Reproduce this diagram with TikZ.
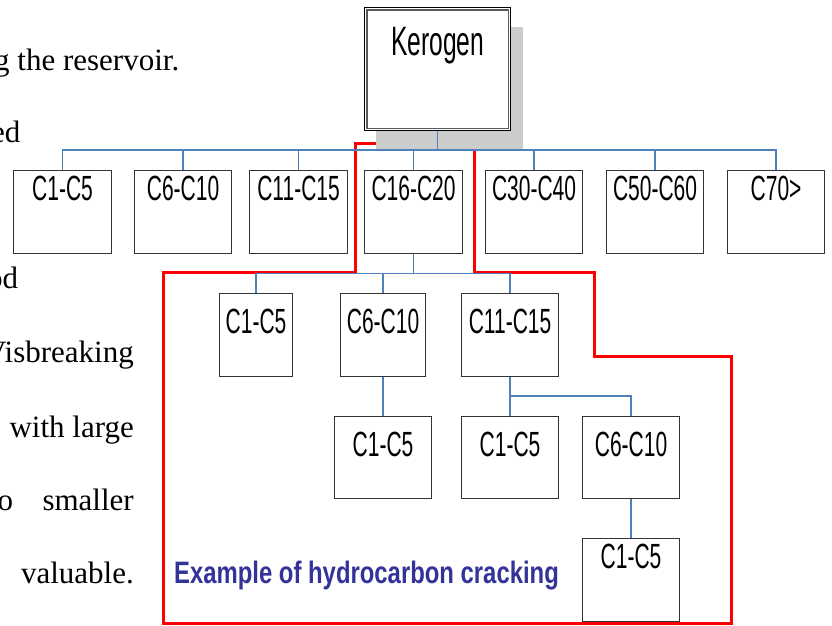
\documentclass[tikz,border=0pt]{standalone}
\usepackage{fontspec}
\setmainfont{Liberation Serif}
\newfontfamily\boxfont[FakeStretch=0.6]{Liberation Sans}
\newfontfamily\capfont[FakeStretch=0.77]{Liberation Sans}
\definecolor{linkblue}{RGB}{79,129,189}
\definecolor{captionblue}{RGB}{51,51,153}
\definecolor{shadowgray}{RGB}{204,204,204}

\begin{document}
\begin{tikzpicture}[x=1pt,y=-1pt,
  cbox/.style={draw=black!80, line width=1.1pt, anchor=north west, inner sep=0pt, fill=white},
  clabel/.style={font=\boxfont\fontsize{35}{35}\selectfont, anchor=base, inner sep=0pt},
  link/.style={draw=linkblue, line width=1.2pt},
  prose/.style={font=\fontsize{31}{31}\selectfont, inner sep=0pt},
  cutline/.style={draw=red, line width=3pt, line join=miter},
]
\useasboundingbox (0,0) rectangle (832,625);
\clip (0,0) rectangle (832,625);

% bus levels
\coordinate (bus1) at (0,150);
\coordinate (bus2) at (0,273.5);
\coordinate (bus3) at (0,396);

% surrounding text of the page
\node[prose, anchor=base west] (p1) at (-6,70) {g the reservoir.};
\node[prose, anchor=base west] (p2) at (-9,142) {ed};
\node[prose, anchor=base west] (p3) at (-13,288) {od};
\node[prose, anchor=base east] (p4) at (134,362) {Visbreaking};
\node[prose, anchor=base east] (p5) at (134,437) {with large};
\node[prose, anchor=base west] (p6) at (-2.5,510) {o};
\node[prose, anchor=base east] (p7) at (134,510) {smaller};
\node[prose, anchor=base east] (p8) at (134,583) {valuable.};

% red outline around the cracked branch
\draw[cutline] (376,143) -- (355,143) -- (355,272) -- (163,272) -- (163,623)
  -- (731,623) -- (731,356) -- (594,356) -- (594,272) -- (474,272) -- (474,143) -- cycle;

% Kerogen box with drop shadow
\fill[shadowgray] (376,27) rectangle (523,150);
\node[draw=black, line width=1.4pt, fill=white, anchor=north west, inner sep=0pt,
      minimum width=146pt, minimum height=123pt] (ker) at (364,7) {};
\draw[black!65, line width=1.4pt] ([shift={(3pt,3pt)}]ker.south west) rectangle ([shift={(-3pt,-3pt)}]ker.north east);
\node[font=\boxfont\fontsize{41}{41}\selectfont, anchor=base, inner sep=0pt] (kerl) at ([yshift=-48pt]ker.north) {Kerogen};

% first cut
\node[cbox, minimum width=98pt, minimum height=83pt] (t1) at (13,170) {};
\node[cbox, minimum width=97pt, minimum height=83pt] (t2) at (134,170) {};
\node[cbox, minimum width=98pt, minimum height=83pt] (t3) at (249,170) {};
\node[cbox, minimum width=98pt, minimum height=83pt] (t4) at (364,170) {};
\node[cbox, minimum width=97pt, minimum height=83pt] (t5) at (485,170) {};
\node[cbox, minimum width=97pt, minimum height=83pt] (t6) at (606,170) {};
\node[cbox, minimum width=97pt, minimum height=83pt] (t7) at (727,170) {};
\node[clabel] (t1l) at ([yshift=-30pt]t1.north) {C1-C5};
\node[clabel] (t2l) at ([yshift=-30pt]t2.north) {C6-C10};
\node[clabel] (t3l) at ([yshift=-30pt]t3.north) {C11-C15};
\node[clabel] (t4l) at ([yshift=-30pt]t4.north) {C16-C20};
\node[clabel] (t5l) at ([yshift=-30pt]t5.north) {C30-C40};
\node[clabel] (t6l) at ([yshift=-30pt]t6.north) {C50-C60};
\node[clabel] (t7l) at ([yshift=-30pt]t7.north) {C70>};

% second cut
\node[cbox, minimum width=73pt, minimum height=83pt] (m1) at (219,293) {};
\node[cbox, minimum width=85pt, minimum height=83pt] (m2) at (340,293) {};
\node[cbox, minimum width=97pt, minimum height=83pt] (m3) at (461,293) {};
\node[clabel] (m1l) at ([yshift=-40pt]m1.north) {C1-C5};
\node[clabel] (m2l) at ([yshift=-40pt]m2.north) {C6-C10};
\node[clabel] (m3l) at ([yshift=-40pt]m3.north) {C11-C15};

% third cut
\node[cbox, minimum width=97pt, minimum height=82pt] (r1) at (334,416) {};
\node[cbox, minimum width=97pt, minimum height=82pt] (r2) at (461,416) {};
\node[cbox, minimum width=97pt, minimum height=82pt] (r3) at (582,416) {};
\node[clabel] (r1l) at ([yshift=-40pt]r1.north) {C1-C5};
\node[clabel] (r2l) at ([yshift=-40pt]r2.north) {C1-C5};
\node[clabel] (r3l) at ([yshift=-40pt]r3.north) {C6-C10};

% fourth cut
\node[cbox, minimum width=97pt, minimum height=83pt] (b1) at (582,538) {};
\node[clabel] (b1l) at ([yshift=-30pt]b1.north) {C1-C5};

% connectors
\draw[link] (ker.south) -- (ker.south |- bus1);
\draw[link] (t1.north) -- (t1.north |- bus1) -- (t7.north |- bus1) -- (t7.north);
\draw[link] (t2.north) -- (t2.north |- bus1);
\draw[link] (t3.north) -- (t3.north |- bus1);
\draw[link] (t4.north) -- (t4.north |- bus1);
\draw[link] (t5.north) -- (t5.north |- bus1);
\draw[link] (t6.north) -- (t6.north |- bus1);

\draw[link] (t4.south) -- (t4.south |- bus2);
\draw[link] (m1.north) -- (m1.north |- bus2) -- (m3.north |- bus2) -- (m3.north);
\draw[link] (m2.north) -- (m2.north |- bus2);

\draw[link] (m2.south) -- (r1.north);
\draw[link] (m3.south) -- (r2.north);
\draw[link] (r3.north) -- (r3.north |- bus3) -- (m3.south |- bus3);
\draw[link] (r3.south) -- (b1.north);

% caption
\node[font=\capfont\bfseries\fontsize{31}{31}\selectfont, text=captionblue,
      anchor=base west, inner sep=0pt] (cap) at (174,583) {Example of hydrocarbon cracking};
\end{tikzpicture}
\end{document}
